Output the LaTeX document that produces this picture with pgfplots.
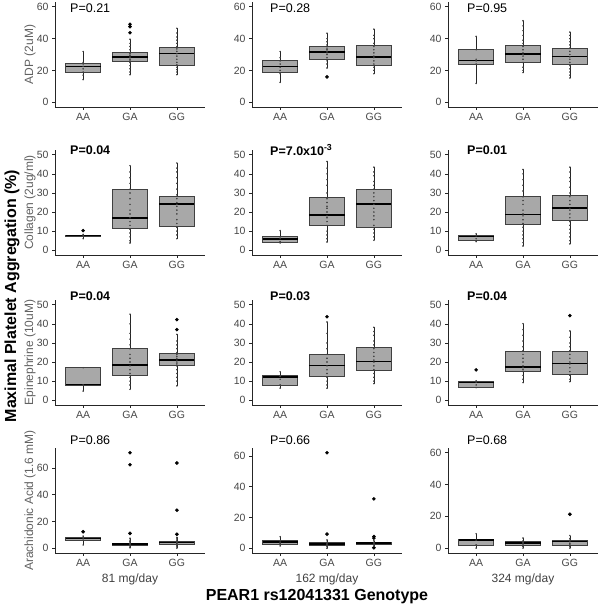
\documentclass[border=0pt]{standalone}
\usepackage{fontspec}
\setmainfont{Liberation Sans}
\usepackage{pgfplots}
\pgfplotsset{compat=1.18}
\usepgfplotslibrary{statistics}

\pgfplotsset{
  panel/.style={
    scale only axis, width=150pt, height=105pt, anchor=south west,
    xmin=0.4, xmax=3.6, xtick={1,2,3}, xticklabels={AA,GA,GG},
    axis lines=left, axis line style={-, draw=black!85, line width=0.7pt},
    tick style={draw=black!85, line width=0.7pt}, tick align=outside, major tick length=3pt,
    ticklabel style={font=\fontsize{10.5}{12}\selectfont, text=black!72},
    /pgf/number format/assume math mode=true,
    every axis y label/.style={at={(axis description cs:-0.167,0.5)}, rotate=90, anchor=center,
      font=\fontsize{12}{13}\selectfont, text=black!62},
    clip=false,
  },
  bx/.style={draw=black!85, line width=0.75pt, mark=*, mark size=1.4pt,
    mark options={fill=black, draw=black},
    boxplot/draw direction=y,
    boxplot/box extend=0.75, boxplot/whisker extend=0,
    boxplot/every box/.style={draw=black!75, fill=black!34},
    boxplot/every median/.style={draw=black, line width=1.5pt}},
  jit/.style={only marks, mark=*, mark size=0.55pt, draw=black!75, fill=black!75},
}
% position, lower whisker, q1, median, q3, upper whisker, outliers
\newcommand{\bp}[7]{\addplot[bx, boxplot prepared={draw position=#1, lower whisker=#2,
  lower quartile=#3, median=#4, upper quartile=#5, upper whisker=#6}] coordinates {#7};}
\newcommand{\jt}[2]{\addplot[jit] table[x expr=#1, y index=0, header=false, row sep=\\] {#2};}

\begin{document}
\begin{tikzpicture}
\useasboundingbox (0,0) rectangle (600pt,610pt);

% ---- row 1: ADP
\begin{axis}[panel, at={(55pt,503pt)}, ymin=-3, ymax=63, ytick={0,20,40,60}, ylabel={ADP (2uM)}]
\bp{1}{14.2}{18.8}{22.5}{24.6}{31.9}{}
\bp{2}{17.3}{25.6}{28.5}{31.3}{39.6}{(0,43.7) (0,47.5) (0,49)}
\bp{3}{17.3}{23.1}{30.6}{34.6}{46.5}{}
\jt{1}{14.2\\17\\19\\21\\22.5\\24\\25\\31.9\\}
\jt{2}{17.3\\19\\21\\23\\25\\26\\27\\28\\28.5\\29.5\\30.5\\31\\33\\35\\37\\39.6\\}
\jt{3}{17.3\\19\\20.5\\22\\23.5\\25\\27\\29\\30.5\\32\\33.5\\35\\37\\39\\41\\43.5\\46.5\\}
\end{axis}
\begin{axis}[panel, at={(252pt,503pt)}, ymin=-3, ymax=63, ytick={0,20,40,60}]
\bp{1}{12.5}{18.8}{22.5}{26.5}{31.9}{}
\bp{2}{21.5}{27}{31.5}{34.8}{43.4}{(0,15.9)}
\bp{3}{17.9}{23.2}{28.5}{35.6}{45.9}{}
\jt{1}{12.5\\18\\20\\22\\24\\26\\28\\31.9\\}
\jt{2}{21.5\\24\\26\\28\\30\\31\\32\\33\\34\\36\\38\\40\\43.4\\}
\jt{3}{17.9\\20\\22\\24\\26\\28\\29\\31\\33\\35\\37\\40\\42\\45.9\\}
\end{axis}
\begin{axis}[panel, at={(448pt,503pt)}, ymin=-3, ymax=63, ytick={0,20,40,60}]
\bp{1}{11.8}{23.6}{26.3}{33}{41.4}{}
\bp{2}{18.6}{24.9}{30.2}{35.8}{51.2}{}
\bp{3}{15.2}{23.6}{28.6}{33.8}{44.1}{}
\jt{1}{11.8\\24\\26\\27\\33\\41.4\\}
\jt{2}{18.6\\20\\22\\25\\27\\29\\30\\31\\33\\35\\37\\39\\42\\45\\48\\51.2\\}
\jt{3}{15.2\\17\\19\\21\\23\\25\\27\\28.5\\30\\32\\34\\36\\38\\40\\42\\44.1\\}
\end{axis}

% ---- row 2: Collagen
\begin{axis}[panel, at={(55pt,355pt)}, ymin=-2.5, ymax=52.5, ytick={0,10,...,50}, ylabel={Collagen (2ug/ml)}]
\bp{1}{6}{7.5}{7.7}{7.9}{8.3}{(0,10.3)}
\bp{2}{3.8}{11.2}{17}{31.8}{44.3}{}
\bp{3}{6}{12.4}{24.2}{28.3}{45.7}{}
\jt{1}{6\\7.7\\8.3\\}
\jt{2}{3.8\\5\\7\\9\\11\\13\\15\\17\\19\\21\\24\\27\\30\\32\\35\\38\\41\\44.3\\}
\jt{3}{6\\8\\10\\12\\14\\16\\19\\21\\23\\24\\25\\27\\29\\32\\35\\38\\41\\43\\45.7\\}
\end{axis}
\begin{axis}[panel, at={(252pt,355pt)}, ymin=-2.5, ymax=52.5, ytick={0,10,...,50}]
\bp{1}{3.8}{4.3}{6}{7.2}{10.3}{}
\bp{2}{4.3}{13.2}{18.4}{27.5}{46.5}{}
\bp{3}{5.2}{12.2}{24.2}{32}{43.5}{}
\jt{1}{3.8\\4.5\\6\\7\\10.3\\}
\jt{2}{4.3\\6\\8\\10\\13\\15\\17\\18\\20\\22\\23\\25\\27\\30\\34\\37\\40\\43\\46.5\\}
\jt{3}{5.2\\7\\9\\11\\13\\16\\18\\20\\22\\24\\26\\28\\30\\32\\34\\36\\39\\41\\43.5\\}
\end{axis}
\begin{axis}[panel, at={(448pt,355pt)}, ymin=-2.5, ymax=52.5, ytick={0,10,...,50}]
\bp{1}{4.5}{5.3}{7.2}{7.7}{8.6}{}
\bp{2}{2.2}{13.5}{18.8}{28.3}{42.3}{}
\bp{3}{3.3}{15.5}{22}{28.6}{43.5}{}
\jt{1}{4.5\\6\\7.5\\8.6\\}
\jt{2}{2.2\\4\\6\\8\\10\\12\\14\\16\\18\\19\\21\\24\\26\\28\\31\\34\\37\\40\\42.3\\}
\jt{3}{3.3\\5\\7\\9\\11\\13\\15\\17\\19\\21\\22\\24\\26\\28\\30\\33\\36\\38\\41\\43.5\\}
\end{axis}

% ---- row 3: Epinephrine
\begin{axis}[panel, at={(55pt,205pt)}, ymin=-2.5, ymax=52.5, ytick={0,10,...,50}, ylabel={Epinephrine (10uM)}]
\bp{1}{4.8}{8}{8.2}{17}{17.2}{}
\bp{2}{5.7}{13.1}{18.4}{27.2}{45.1}{}
\bp{3}{7.5}{18.1}{21.2}{24.8}{34.5}{(0,37) (0,42.2)}
\jt{1}{4.8\\8\\17\\}
\jt{2}{5.7\\8\\10\\12\\14\\16\\18\\20\\22\\24\\27\\29\\32\\35\\40\\45.1\\}
\jt{3}{7.5\\10\\12\\14\\16\\18\\19\\20\\21\\22\\23\\24\\25\\27\\29\\31\\34.5\\}
\end{axis}
\begin{axis}[panel, at={(252pt,205pt)}, ymin=-2.5, ymax=52.5, ytick={0,10,...,50}]
\bp{1}{6.3}{7.9}{12.1}{12.9}{14.9}{}
\bp{2}{6.3}{12.5}{18.3}{24}{41}{(0,43.7)}
\bp{3}{8.7}{15.7}{20.2}{27.8}{38.2}{}
\jt{1}{6.3\\8\\11\\12.5\\14.9\\}
\jt{2}{6.3\\8\\10\\12\\14\\16\\18\\20\\22\\24\\27\\30\\35\\41\\}
\jt{3}{8.7\\10\\12\\14\\16\\18\\20\\21\\23\\25\\27\\29\\31\\34\\36\\38.2\\}
\end{axis}
\begin{axis}[panel, at={(448pt,205pt)}, ymin=-2.5, ymax=52.5, ytick={0,10,...,50}]
\bp{1}{6.6}{6.6}{9.3}{9.7}{10.2}{(0,15.9)}
\bp{2}{9.2}{15}{17.5}{25.5}{40.1}{}
\bp{3}{9.7}{13.6}{19.2}{25.5}{36.3}{(0,44.3)}
\jt{1}{6.6\\8\\9.5\\10.2\\}
\jt{2}{9.2\\11\\13\\15\\16\\17\\18\\20\\22\\24\\26\\28\\31\\34\\37\\40.1\\}
\jt{3}{9.7\\11\\13\\15\\17\\19\\20\\22\\24\\26\\28\\30\\33\\36.3\\}
\end{axis}

% ---- row 4: Arachidonic acid
\begin{axis}[panel, at={(55pt,57pt)}, ymin=-3.6, ymax=74.9, ytick={0,20,40,60}, ylabel={Arachidonic Acid (1.6 mM)}]
\bp{1}{2.4}{5.8}{7.2}{8.2}{9.3}{(0,12.3)}
\bp{2}{0.3}{1.8}{3}{3.8}{7.4}{(0,11.1) (0,62.4) (0,71.3)}
\bp{3}{0}{2.6}{4.2}{5}{8.1}{(0,10.4) (0,28.4) (0,63.7)}
\jt{1}{2.4\\6\\7.5\\9\\}
\jt{2}{0.3\\1\\2\\2.5\\3\\3.5\\4\\5\\6\\7.4\\}
\jt{3}{0\\1\\2\\3\\3.5\\4\\4.5\\5\\6\\7\\8.1\\}
\end{axis}
\begin{axis}[panel, at={(252pt,57pt)}, ymin=-3.1, ymax=65.2, ytick={0,20,40,60}]
\bp{1}{1.5}{2.8}{4}{5.4}{7.5}{}
\bp{2}{0}{1.7}{2.8}{3.9}{5.4}{(0,9.2) (0,62.1)}
\bp{3}{1.5}{2.6}{3.3}{3.6}{5}{(0,0.3) (0,6.6) (0,7.6) (0,32.1)}
\jt{1}{1.5\\3\\4\\5\\7.5\\}
\jt{2}{0\\1\\2\\2.5\\3\\3.5\\4\\5.4\\}
\jt{3}{1.5\\2.5\\3\\3.5\\4\\5\\}
\end{axis}
\begin{axis}[panel, at={(448pt,57pt)}, ymin=-3.1, ymax=63, ytick={0,20,40,60}]
\bp{1}{0}{1.6}{5.2}{5.3}{9}{}
\bp{2}{0}{2}{3.1}{4.2}{6.3}{}
\bp{3}{0}{1.5}{4.2}{4.8}{7.9}{(0,21.3)}
\jt{1}{0\\2\\5\\9\\}
\jt{2}{0\\1\\2\\3\\3.5\\4.5\\6.3\\}
\jt{3}{0\\1\\2\\3\\4\\5\\6\\7.9\\}
\end{axis}

% ---- panel annotations
\begin{scope}[every node/.style={anchor=west, inner sep=0pt, font=\fontsize{12.5}{14}\selectfont}]
\node at (70pt,601.5pt) {P=0.21};
\node at (270pt,601.5pt) {P=0.28};
\node at (467pt,601.5pt) {P=0.95};
\node at (70pt,460pt) {\bfseries P=0.04};
\node at (270pt,460pt) {\bfseries P=7.0x10\textsuperscript{-3}};
\node at (467pt,460pt) {\bfseries P=0.01};
\node at (70pt,314pt) {\bfseries P=0.04};
\node at (270pt,314pt) {\bfseries P=0.03};
\node at (467pt,314pt) {\bfseries P=0.04};
\node at (70pt,169.5pt) {P=0.86};
\node at (270pt,169.5pt) {P=0.66};
\node at (467pt,169.5pt) {P=0.68};
\end{scope}

\begin{scope}[every node/.style={font=\fontsize{12}{14}\selectfont, text=black!75}]
\node at (130pt,31pt) {81 mg/day};
\node at (327pt,31pt) {162 mg/day};
\node at (523pt,31pt) {324 mg/day};
\end{scope}

\node[rotate=90, font=\bfseries\fontsize{16}{18}\selectfont] at (12pt,314pt) {Maximal Platelet Aggregation (\%)};
\node[font=\bfseries\fontsize{16}{18}\selectfont] at (317pt,13pt) {PEAR1 rs12041331 Genotype};
\end{tikzpicture}
\end{document}
